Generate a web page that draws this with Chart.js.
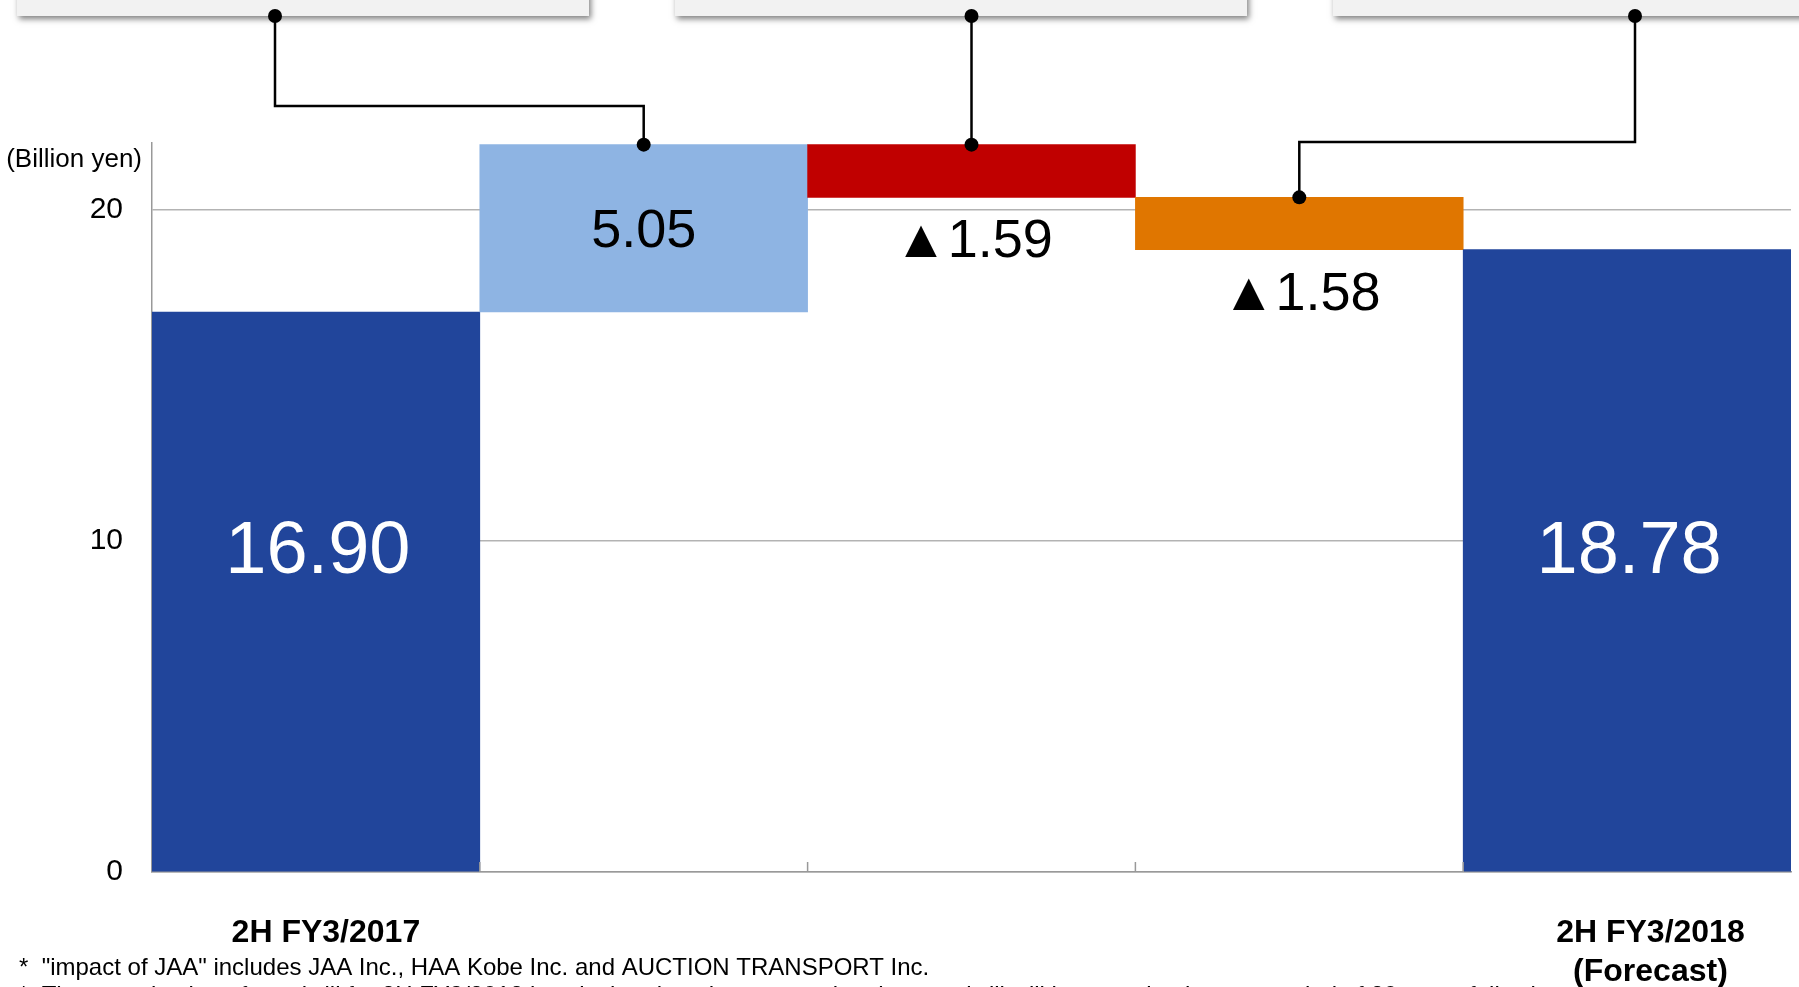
<!DOCTYPE html>
<html>
<head>
<meta charset="utf-8">
<script src="https://cdn.jsdelivr.net/npm/chart.js@4.4.1/dist/chart.umd.min.js"></script>
<style>
  html, body { margin: 0; padding: 0; background: #fff; }
  #wrap { position: relative; width: 1799px; height: 987px; }
</style>
</head>
<body>
<div id="wrap"><canvas id="myChart"></canvas></div>
<script>
// Datos del gráfico de cascada (billion yen)
const categories = ['2H FY3/2017', '', '', '', ['   2H FY3/2018', '   (Forecast)']];
const startValue = 16.90;
const changes = [5.05, -1.59, -1.58];
const endValue = 18.78;
const valueLabels = ['16.90', '5.05', '▲1.59', '▲1.58', '18.78'];
const barColors = ['#21459B', '#8EB4E3', '#C00000', '#E07600', '#21459B'];
const yTicks = [0, 10, 20];

// Construir barras flotantes [inicio, fin]
function buildWaterfall() {
  const rows = [[0, startValue]];
  let level = startValue;
  changes.forEach(c => {
    rows.push([level, level + c]);
    level += c;
  });
  rows.push([0, endValue]);
  return rows;
}

const FONT = "'Liberation Sans', Arial, sans-serif";
Chart.defaults.font.family = FONT;

const annotations = {
  id: 'annotations',
  beforeDraw(chart) {
    const ctx = chart.ctx;
    ctx.save();
    ctx.fillStyle = '#fff';
    ctx.fillRect(0, 0, chart.width, chart.height);
    ctx.restore();
  },
  afterDatasetsDraw(chart) {
    const ctx = chart.ctx;
    const x = chart.scales.x;
    const y = chart.scales.y;
    const bars = chart.getDatasetMeta(0).data;
    const area = chart.chartArea;
    ctx.save();

    // marcas pequeñas entre categorías
    ctx.strokeStyle = '#999';
    ctx.lineWidth = 1.5;
    for (let i = 1; i < categories.length; i++) {
      const bx = (x.getPixelForValue(i - 1) + x.getPixelForValue(i)) / 2;
      ctx.beginPath();
      ctx.moveTo(bx, area.bottom);
      ctx.lineTo(bx, area.bottom - 10);
      ctx.stroke();
    }

    // etiquetas de valores
    ctx.textAlign = 'center';
    ctx.textBaseline = 'middle';
    bars.forEach((bar, i) => {
      const top = Math.min(bar.y, bar.base);
      const bottom = Math.max(bar.y, bar.base);
      if (i === 0 || i === bars.length - 1) {
        ctx.fillStyle = '#fff';
        ctx.font = '74px ' + FONT;
        ctx.fillText(valueLabels[i], bar.x + 2, y.getPixelForValue(9.65));
      } else if (changes[i - 1] >= 0) {
        ctx.fillStyle = '#000';
        ctx.font = '54px ' + FONT;
        ctx.fillText(valueLabels[i], bar.x, (top + bottom) / 2 + 4);
      } else {
        ctx.fillStyle = '#000';
        ctx.font = '54px ' + FONT;
        ctx.fillText(valueLabels[i], bar.x + 2, bottom + 45);
      }
    });

    // unidad
    ctx.fillStyle = '#000';
    ctx.font = '26px ' + FONT;
    ctx.textAlign = 'right';
    ctx.fillText('(Billion yen)', 142, 160);

    // cajas de comentarios (recortadas arriba)
    const boxes = [[17, 572], [675, 572], [1333, 520]];
    boxes.forEach(([bx, bw]) => {
      ctx.save();
      ctx.shadowColor = 'rgba(0,0,0,0.5)';
      ctx.shadowBlur = 6;
      ctx.shadowOffsetX = 2;
      ctx.shadowOffsetY = 3;
      ctx.fillStyle = '#F2F2F2';
      ctx.fillRect(bx, -40, bw, 56);
      ctx.restore();
    });

    // conectores
    const topOf = b => Math.min(b.y, b.base);
    const paths = [
      [[275, 16], [275, 106], [bars[1].x, 106], [bars[1].x, topOf(bars[1])]],
      [[bars[2].x, 16], [bars[2].x, topOf(bars[2])]],
      [[1635, 16], [1635, 142], [bars[3].x, 142], [bars[3].x, topOf(bars[3])]]
    ];
    ctx.strokeStyle = '#000';
    ctx.fillStyle = '#000';
    ctx.lineWidth = 2.5;
    paths.forEach(p => {
      ctx.beginPath();
      ctx.moveTo(p[0][0], p[0][1]);
      for (let k = 1; k < p.length; k++) ctx.lineTo(p[k][0], p[k][1]);
      ctx.stroke();
      [p[0], p[p.length - 1]].forEach(pt => {
        ctx.beginPath();
        ctx.arc(pt[0], pt[1], 7, 0, Math.PI * 2);
        ctx.fill();
      });
    });

    // notas al pie
    ctx.textAlign = 'left';
    ctx.font = '24px ' + FONT;
    ctx.fillText('*  "impact of JAA" includes JAA Inc., HAA Kobe Inc. and AUCTION TRANSPORT Inc.', 19, 968);
    ctx.fillText('*  The amortization of goodwill for 2H FY3/2018 is calculated on the assumption that goodwill will be amortized over a period of 20 years following', 19, 996);
    ctx.restore();
  }
};

function renderWaterfall() {
  const ctx = document.getElementById('myChart').getContext('2d');
  new Chart(ctx, {
    type: 'bar',
    data: {
      labels: categories,
      datasets: [{
        data: buildWaterfall(),
        backgroundColor: barColors,
        borderWidth: 0,
        barPercentage: 1,
        categoryPercentage: 1
      }]
    },
    options: {
      responsive: true,
      maintainAspectRatio: false,
      animation: false,
      layout: { padding: { left: 0, right: 8, top: 143, bottom: 0 } },
      plugins: {
        legend: { display: false },
        tooltip: { enabled: false }
      },
      scales: {
        x: {
          offset: true,
          grid: { display: false, drawTicks: false },
          border: { display: true, color: '#999', width: 1.5 },
          ticks: {
            color: '#000',
            font: { size: 32, weight: 'bold', lineHeight: 1.23 },
            padding: 41,
            labelOffset: 10,
            maxRotation: 0,
            autoSkip: false
          },
          afterFit: s => { s.height = 115; }
        },
        y: {
          min: 0,
          max: 22,
          grid: { color: '#B3B3B3', lineWidth: 1.5, drawTicks: false },
          border: { display: true, color: '#999', width: 1.5 },
          afterBuildTicks: s => { s.ticks = yTicks.map(v => ({ value: v })); },
          ticks: {
            color: '#000',
            font: { size: 30 },
            padding: 29
          },
          afterFit: s => { s.width = 152; }
        }
      }
    },
    plugins: [annotations]
  });
}

renderWaterfall();
</script>
</body>
</html>
